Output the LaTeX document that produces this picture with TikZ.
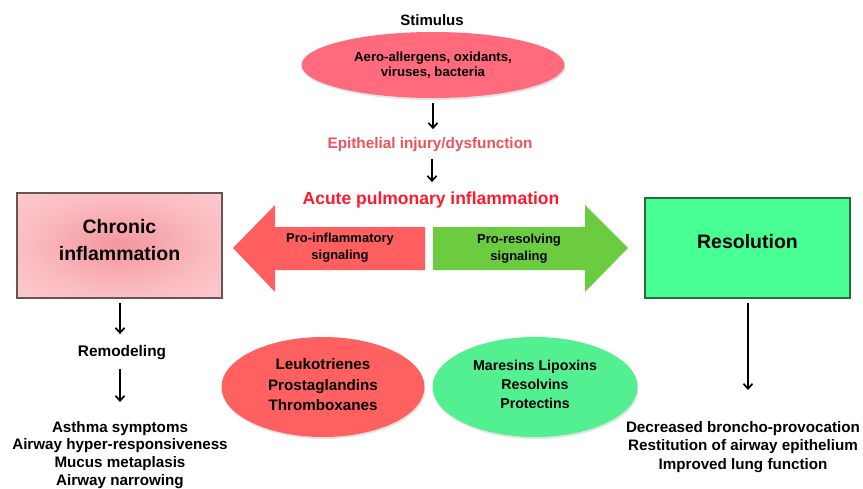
\documentclass[tikz,border=0pt]{standalone}
\usepackage{fontspec}
\setmainfont{Liberation Sans}
\usetikzlibrary{shapes.geometric,arrows.meta,shadows}
\definecolor{stimfill}{RGB}{255,106,124}
\definecolor{epicol}{RGB}{232,84,94}
\definecolor{acutecol}{RGB}{255,25,45}
\definecolor{redarrow}{RGB}{255,95,95}
\definecolor{greenarrow}{RGB}{108,204,64}
\definecolor{resolfill}{RGB}{72,255,148}
\definecolor{resoldraw}{RGB}{35,110,65}
\definecolor{redell}{RGB}{255,96,96}
\definecolor{greenell}{RGB}{82,240,145}
\definecolor{chrin}{RGB}{245,150,158}
\definecolor{chrmid}{RGB}{250,188,193}
\definecolor{chrout}{RGB}{254,212,215}
\definecolor{chrdraw}{RGB}{105,85,88}
\pgfdeclareradialshading{chrshade}{\pgfpoint{0bp}{0bp}}{color(0bp)=(chrin); color(22bp)=(chrmid); color(45bp)=(chrout); color(72bp)=(chrout)}
\tikzset{
  lbl/.style={font=\bfseries, inner sep=0pt, align=center},
  blk/.style={draw=black, line width=1.7pt, -{Straight Barb[length=5pt,width=9pt,line width=1.7pt]}},
  ell/.style={ellipse, inner sep=0pt, align=center, font=\bfseries,
    drop shadow={opacity=0.22, shadow xshift=1pt, shadow yshift=-2pt}},
  bigbox/.style={rectangle, inner sep=0pt, line width=1.3pt},
  boxtxt/.style={lbl, font=\bfseries\fontsize{19.5}{27}\selectfont}
}
\begin{document}
\begin{tikzpicture}[x=1pt,y=-1pt]
\useasboundingbox (0,0) rectangle (863,488);
% top chain
\node[lbl, font=\bfseries\fontsize{15}{18}\selectfont] (stimtxt) at (432,20) {Stimulus};
\node[ell, fill=stimfill, minimum width=263pt, minimum height=66pt,
  font=\bfseries\fontsize{13.2}{15.5}\selectfont] (stim) at (433,65)
  {Aero-allergens, oxidants,\\viruses, bacteria};
\node[lbl, text=epicol, font=\bfseries\fontsize{15.3}{18}\selectfont] (epi) at (430,145) {Epithelial injury/dysfunction};
\node[lbl, text=acutecol, font=\bfseries\fontsize{17.5}{21}\selectfont] (acute) at (431,200) {Acute pulmonary inflammation};
\draw[blk, shorten <=5pt, shorten >=8.5pt] (stim.south) -- (stim.south |- epi.north);
\draw[blk, shorten <=6.5pt, shorten >=9.5pt] ([xshift=2pt]epi.south) -- ([xshift=2pt]epi.south |- acute.north);
% boxes
\node[bigbox, draw=chrdraw, shading=chrshade, minimum width=205pt, minimum height=105pt] (chronic) at (119.5,245.5) {};
\node[boxtxt] (chrtxt) at (119.5,240) {Chronic\\inflammation};
\node[bigbox, draw=resoldraw, fill=resolfill, minimum width=205pt, minimum height=100pt] (resol) at (747.5,248) {};
\node[boxtxt] (restxt) at (747.5,242) {Resolution};
% big arrows
\fill[redarrow] (233,248) -- (275,205) -- (275,227) -- (425,227) -- (425,270) -- (275,270) -- (275,292) -- cycle;
\fill[greenarrow] (433,227) -- (585,227) -- (585,205) -- (628,248) -- (585,292) -- (585,270) -- (433,270) -- cycle;
\node[lbl, font=\bfseries\fontsize{13}{17}\selectfont] (proinf) at (340,248) {Pro-inflammatory\\signaling};
\node[lbl, font=\bfseries\fontsize{13}{17}\selectfont] (prores) at (519,249) {Pro-resolving\\signaling};
% left column
\node[lbl, font=\bfseries\fontsize{15.4}{18}\selectfont] (remod) at (122,353) {Remodeling};
\node[lbl, anchor=north, font=\bfseries\fontsize{15.2}{17.7}\selectfont] (asthma) at (120,421)
  {Asthma symptoms\\Airway hyper-responsiveness\\Mucus metaplasis\\Airway narrowing};
\draw[blk, shorten <=4pt, shorten >=11.5pt] ([xshift=0.5pt]chronic.south) -- ([xshift=0.5pt]chronic.south |- remod.north);
\draw[blk, shorten <=8.5pt, shorten >=19pt] ([xshift=-2pt]remod.south) -- ([xshift=-2pt]remod.south |- asthma.north);
% mediators
\node[ell, fill=redell, minimum width=203pt, minimum height=100pt] (lt) at (323,387) {};
\node[lbl, font=\bfseries\fontsize{15.2}{20.5}\selectfont] (lttxt) at (323,385) {Leukotrienes\\Prostaglandins\\Thromboxanes};
\node[ell, fill=greenell, minimum width=205pt, minimum height=100pt] (mar) at (535,387) {};
\node[lbl, font=\bfseries\fontsize{14.2}{19}\selectfont] (martxt) at (535,384) {Maresins Lipoxins\\Resolvins\\Protectins};
% right column
\node[lbl, anchor=north, font=\bfseries\fontsize{15.2}{18.5}\selectfont] (rlist) at (743,421)
  {Decreased broncho-provocation\\Restitution of airway epithelium\\Improved lung function};
\draw[blk, shorten <=4pt, shorten >=31pt] ([xshift=0.5pt]resol.south) -- ([xshift=0.5pt]resol.south |- rlist.north);
\end{tikzpicture}
\end{document}
